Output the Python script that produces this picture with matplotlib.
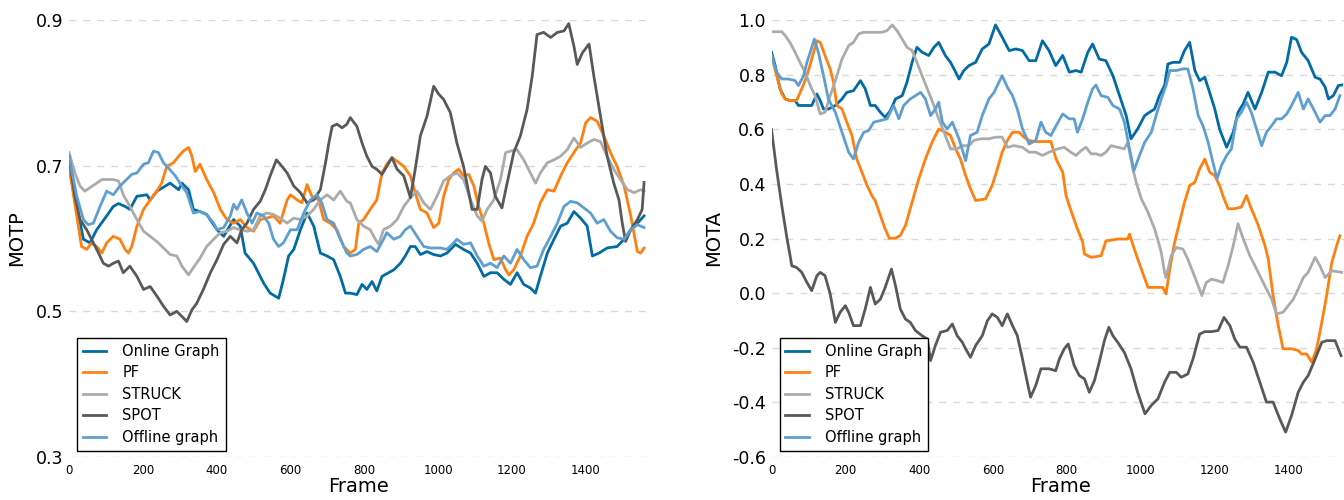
import matplotlib
matplotlib.use("Agg")
import matplotlib.pyplot as plt

# ---------------- data: MOTP (left panel) ----------------
motp_online_f = [0, 39, 57, 75, 102, 120, 134, 152, 165, 184, 211, 220, 238, 274, 297, 306, 324, 337, 355, 373,
                 401, 419, 446, 464, 477, 500, 527, 545, 568, 581, 595, 609, 627, 645, 663, 681, 699, 717, 735, 749,
                 762, 780, 794, 807, 821, 834, 848, 866, 880, 898, 911, 925, 938, 952, 970, 988, 1006, 1024, 1047,
                 1069, 1088, 1106, 1124, 1142, 1160, 1178, 1196, 1214, 1232, 1250, 1264, 1277, 1296, 1314, 1332,
                 1350, 1368, 1386, 1404, 1418, 1436, 1458, 1485, 1504, 1522, 1540, 1558]
motp_online_v = [0.700, 0.599, 0.594, 0.612, 0.631, 0.644, 0.648, 0.644, 0.640, 0.658, 0.660, 0.653, 0.665, 0.676,
                 0.667, 0.676, 0.667, 0.640, 0.637, 0.633, 0.612, 0.603, 0.626, 0.617, 0.580, 0.566, 0.539, 0.525,
                 0.518, 0.544, 0.576, 0.585, 0.612, 0.635, 0.617, 0.580, 0.576, 0.571, 0.548, 0.525,
                 0.525, 0.523, 0.537, 0.530, 0.541, 0.528, 0.548, 0.553, 0.557, 0.566, 0.576, 0.589, 0.589, 0.578,
                 0.582, 0.578, 0.576, 0.580, 0.592, 0.585, 0.580, 0.566, 0.548, 0.553, 0.553, 0.544, 0.537, 0.553,
                 0.537, 0.532, 0.525, 0.548, 0.580, 0.599, 0.617, 0.621, 0.637, 0.628, 0.617, 0.576, 0.580, 0.587,
                 0.589, 0.599, 0.612, 0.621, 0.631]

motp_pf_f = [0, 21, 34, 48, 61, 75, 89, 102, 120, 138, 152, 161, 170, 184, 202, 220, 238, 251, 265, 283, 297, 310,
             324, 333, 342, 355, 373, 392, 410, 428, 446, 464, 482, 500, 518, 536, 554, 572, 591, 600, 618, 631, 645,
             658, 676, 690, 708, 726, 744, 762, 776, 785, 798, 816, 834, 848, 861, 875, 889, 907, 925, 938, 952, 970,
             988, 1002, 1015, 1029, 1042, 1056, 1069, 1083, 1097, 1110, 1124, 1137, 1151, 1169, 1183, 1192, 1205,
             1223, 1241, 1259, 1277, 1296, 1314, 1332, 1350, 1368, 1386, 1400, 1413, 1431, 1449, 1467, 1485, 1504,
             1522, 1540, 1549, 1558]
motp_pf_v = [0.699, 0.631, 0.589, 0.585, 0.594, 0.589, 0.580, 0.594, 0.603, 0.599, 0.585, 0.580, 0.589, 0.617,
             0.640, 0.653, 0.665, 0.676, 0.699, 0.704, 0.713, 0.720, 0.725, 0.713, 0.692, 0.702, 0.681, 0.663, 0.640,
             0.626, 0.621, 0.626, 0.615, 0.610, 0.626, 0.628, 0.631, 0.621, 0.653, 0.660, 0.653, 0.649, 0.674, 0.658,
             0.653, 0.626, 0.621, 0.612, 0.589, 0.580, 0.585, 0.621, 0.626, 0.640, 0.653, 0.690, 0.702, 0.711, 0.706,
             0.699, 0.686, 0.663, 0.640, 0.635, 0.615, 0.621, 0.658, 0.681, 0.690, 0.695, 0.686, 0.688, 0.672, 0.644,
             0.621, 0.594, 0.571, 0.573, 0.557, 0.550, 0.557, 0.576, 0.603, 0.621, 0.649, 0.667, 0.665, 0.686, 0.704,
             0.718, 0.731, 0.759, 0.766, 0.761, 0.741, 0.718, 0.699, 0.672, 0.631, 0.582, 0.580, 0.587]

motp_struck_f = [0, 16, 30, 43, 57, 75, 89, 102, 120, 134, 147, 165, 184, 202, 220, 242, 256, 274, 292, 306, 324,
                 337, 355, 373, 392, 410, 428, 446, 464, 482, 500, 518, 536, 554, 572, 591, 609, 627, 645, 663, 681,
                 699, 717, 735, 753, 762, 780, 798, 816, 830, 839, 852, 871, 889, 907, 925, 943, 961, 979, 997, 1015,
                 1033, 1051, 1069, 1088, 1106, 1119, 1133, 1151, 1169, 1183, 1196, 1214, 1232, 1250, 1264, 1277, 1296,
                 1314, 1332, 1350, 1368, 1386, 1404, 1422, 1440, 1458, 1476, 1494, 1513, 1531, 1549, 1558]
motp_struck_v = [0.718, 0.690, 0.672, 0.665, 0.670, 0.676, 0.681, 0.681, 0.681, 0.679, 0.660, 0.644, 0.626, 0.610,
                 0.603, 0.594, 0.587, 0.578, 0.576, 0.562, 0.550, 0.560, 0.573, 0.589, 0.599, 0.608, 0.610, 0.615,
                 0.612, 0.610, 0.612, 0.631, 0.635, 0.633, 0.628, 0.621, 0.628, 0.626, 0.631, 0.640, 0.653, 0.660,
                 0.653, 0.665, 0.651, 0.649, 0.626, 0.617, 0.612, 0.599, 0.592, 0.612, 0.617, 0.626, 0.644, 0.656,
                 0.665, 0.649, 0.640, 0.658, 0.679, 0.686, 0.690, 0.681, 0.653, 0.631, 0.624, 0.640, 0.653, 0.681,
                 0.718, 0.720, 0.722, 0.708, 0.690, 0.676, 0.690, 0.704, 0.708, 0.713, 0.722, 0.738, 0.725, 0.731,
                 0.736, 0.733, 0.713, 0.695, 0.681, 0.667, 0.663, 0.667, 0.665]

motp_spot_f = [0, 16, 30, 48, 66, 80, 93, 107, 120, 134, 147, 165, 184, 202, 220, 238, 256, 274, 292, 306, 319, 333,
               346, 364, 383, 401, 419, 437, 455, 468, 482, 500, 518, 532, 545, 562, 577, 591, 609, 627, 645, 663, 681,
               695, 704, 713, 726, 740, 753, 762, 780, 794, 807, 821, 834, 848, 861, 875, 889, 907, 925, 938, 952, 970,
               988, 1002, 1015, 1033, 1051, 1069, 1083, 1092, 1106, 1119, 1128, 1142, 1155, 1173, 1187, 1205, 1223,
               1241, 1255, 1268, 1286, 1305, 1323, 1341, 1354, 1368, 1377, 1391, 1409, 1422, 1440, 1458, 1476, 1490,
               1499, 1508, 1522, 1540, 1553, 1558]
motp_spot_v = [0.713, 0.658, 0.626, 0.612, 0.594, 0.580, 0.566, 0.562, 0.566, 0.569, 0.553, 0.562, 0.548, 0.530,
               0.534, 0.521, 0.507, 0.495, 0.500, 0.493, 0.486, 0.502, 0.511, 0.530, 0.553, 0.571, 0.592, 0.603, 0.594,
               0.612, 0.621, 0.640, 0.651, 0.667, 0.686, 0.708, 0.699, 0.690, 0.672, 0.663, 0.649, 0.653, 0.667, 0.704,
               0.731, 0.754, 0.757, 0.752, 0.757, 0.766, 0.754, 0.731, 0.713, 0.699, 0.695, 0.688, 0.699, 0.711, 0.695,
               0.686, 0.656, 0.695, 0.741, 0.768, 0.809, 0.798, 0.791, 0.773, 0.731, 0.699, 0.663, 0.640, 0.640, 0.681,
               0.699, 0.690, 0.658, 0.642, 0.676, 0.718, 0.741, 0.777, 0.823, 0.880, 0.883, 0.876, 0.883, 0.885, 0.895,
               0.864, 0.839, 0.855, 0.867, 0.823, 0.768, 0.713, 0.676, 0.653, 0.621, 0.596, 0.612, 0.626, 0.640, 0.677]

motp_offline_f = [0, 21, 39, 52, 66, 84, 102, 120, 138, 156, 170, 184, 202, 215, 229, 242, 256, 269, 288, 306, 319,
                  337, 355, 373, 392, 401, 419, 437, 446, 455, 468, 482, 496, 509, 527, 541, 554, 568, 581, 600, 618,
                  636, 654, 672, 685, 699, 717, 735, 753, 762, 780, 798, 816, 834, 852, 861, 880, 898, 911, 925, 943,
                  961, 979, 1006, 1024, 1042, 1051, 1069, 1088, 1106, 1124, 1142, 1160, 1178, 1196, 1214, 1232, 1250,
                  1268, 1286, 1305, 1323, 1341, 1359, 1377, 1395, 1413, 1431, 1449, 1467, 1485, 1504, 1522, 1540, 1558]
motp_offline_v = [0.713, 0.658, 0.626, 0.619, 0.621, 0.644, 0.665, 0.660, 0.672, 0.681, 0.688, 0.690, 0.702, 0.704,
                  0.720, 0.718, 0.704, 0.697, 0.686, 0.672, 0.663, 0.635, 0.637, 0.633, 0.621, 0.612, 0.615, 0.631,
                  0.647, 0.640, 0.653, 0.635, 0.621, 0.635, 0.631, 0.621, 0.599, 0.589, 0.594, 0.612, 0.612, 0.635,
                  0.653, 0.660, 0.649, 0.626, 0.621, 0.599, 0.580, 0.576, 0.578, 0.585, 0.589, 0.582, 0.599, 0.608,
                  0.599, 0.603, 0.612, 0.617, 0.603, 0.589, 0.587, 0.587, 0.585, 0.594, 0.599, 0.592, 0.594, 0.576,
                  0.562, 0.566, 0.560, 0.576, 0.566, 0.585, 0.571, 0.560, 0.562, 0.585, 0.603, 0.621, 0.644, 0.651,
                  0.649, 0.642, 0.635, 0.621, 0.626, 0.610, 0.601, 0.599, 0.612, 0.619, 0.615]

# ---------------- data: MOTA (right panel) ----------------
mota_online_f = [0, 10, 23, 37, 50, 64, 73, 91, 109, 123, 132, 141, 154, 173, 191, 204, 222, 241, 254, 268, 281, 295,
                 308, 322, 336, 354, 367, 381, 394, 408, 426, 440, 453, 471, 485, 499, 508, 521, 535, 553, 571, 589,
                 607, 625, 644, 662, 680, 698, 716, 734, 752, 770, 789, 807, 825, 839, 857, 870, 888, 906, 925, 943,
                 961, 974, 992, 1011, 1024, 1038, 1051, 1065, 1074, 1088, 1106, 1119, 1133, 1147, 1160, 1174, 1187,
                 1201, 1214, 1233, 1251, 1264, 1278, 1291, 1310, 1328, 1346, 1364, 1382, 1396, 1409, 1423, 1436, 1454,
                 1473, 1486, 1500, 1509, 1522, 1536, 1545]
mota_online_v = [0.882, 0.833, 0.748, 0.711, 0.705, 0.705, 0.687, 0.687, 0.687, 0.729, 0.705, 0.674, 0.674, 0.687,
                 0.711, 0.735, 0.741, 0.778, 0.748, 0.687, 0.687, 0.662, 0.644, 0.668, 0.711, 0.723, 0.772, 0.845,
                 0.900, 0.882, 0.870, 0.900, 0.918, 0.870, 0.845, 0.809, 0.784, 0.815, 0.833, 0.845, 0.894, 0.912,
                 0.982, 0.937, 0.888, 0.894, 0.888, 0.851, 0.851, 0.924, 0.888, 0.833, 0.870, 0.809, 0.815, 0.809,
                 0.882, 0.912, 0.857, 0.851, 0.796, 0.723, 0.650, 0.565, 0.601, 0.650, 0.662, 0.674, 0.723, 0.760,
                 0.839, 0.845, 0.845, 0.888, 0.918, 0.815, 0.778, 0.790, 0.735, 0.674, 0.601, 0.534, 0.589, 0.662,
                 0.693, 0.735, 0.674, 0.735, 0.809, 0.809, 0.796, 0.845, 0.937, 0.928, 0.882, 0.851, 0.790, 0.784,
                 0.754, 0.711, 0.723, 0.760, 0.762]

mota_pf_f = [0, 14, 28, 37, 50, 68, 82, 96, 109, 123, 132, 145, 159, 168, 177, 191, 204, 218, 231, 245, 259, 272,
             281, 295, 308, 319, 336, 349, 363, 381, 399, 417, 435, 453, 471, 485, 499, 512, 526, 539, 553, 580, 598,
             612, 625, 639, 653, 671, 684, 698, 716, 743, 757, 771, 789, 798, 816, 829, 843, 848, 866, 893, 906, 938,
             965, 970, 983, 1002, 1020, 1038, 1060, 1069, 1079, 1092, 1119, 1133, 1147, 1160, 1174, 1187, 1201,
             1214, 1223, 1237, 1255, 1273, 1287, 1300, 1319, 1337, 1346, 1359, 1373, 1386, 1409, 1427, 1436, 1450,
             1464, 1477, 1491, 1504, 1518, 1531, 1540]
mota_pf_v = [0.870, 0.796, 0.729, 0.711, 0.705, 0.705, 0.748, 0.796, 0.857, 0.924, 0.918, 0.870, 0.821, 0.772,
             0.687, 0.674, 0.626, 0.577, 0.491, 0.443, 0.394, 0.357, 0.339, 0.284, 0.235, 0.201, 0.201, 0.211, 0.248,
             0.333, 0.418, 0.491, 0.552, 0.601, 0.589, 0.577, 0.528, 0.491, 0.430, 0.382, 0.339, 0.345, 0.394, 0.455,
             0.516, 0.559, 0.589, 0.589, 0.571, 0.559, 0.555, 0.555, 0.555, 0.491, 0.443, 0.357, 0.284, 0.235, 0.187,
             0.143, 0.131, 0.137, 0.191, 0.198, 0.198, 0.216, 0.161, 0.088, 0.021, 0.021, 0.021, -0.003, 0.088,
             0.185, 0.333, 0.394, 0.406, 0.455, 0.491, 0.443, 0.430, 0.394, 0.357, 0.309, 0.309, 0.315, 0.357,
             0.309, 0.248, 0.174, 0.124, -0.009, -0.119, -0.204, -0.204, -0.210, -0.223, -0.223, -0.253, -0.204,
             -0.107, -0.009, 0.112, 0.173, 0.210]

mota_struck_f = [0, 28, 37, 50, 64, 77, 91, 105, 118, 132, 145, 159, 173, 191, 209, 222, 236, 250, 272, 299, 313,
                 327, 340, 354, 367, 381, 394, 408, 426, 440, 453, 471, 485, 503, 517, 535, 548, 567, 589, 607, 625,
                 639, 657, 680, 698, 716, 734, 752, 775, 793, 811, 825, 839, 852, 866, 879, 893, 906, 920, 938, 956,
                 965, 979, 988, 1002, 1020, 1038, 1051, 1056, 1065, 1069, 1083, 1097, 1115, 1128, 1142, 1156, 1166,
                 1178, 1192, 1210, 1223, 1237, 1251, 1264, 1278, 1296, 1310, 1323, 1341, 1355, 1368, 1386, 1400,
                 1414, 1427, 1441, 1454, 1473, 1486, 1500, 1518, 1545]
mota_struck_v = [0.957, 0.957, 0.943, 0.918, 0.882, 0.845, 0.809, 0.760, 0.723, 0.656, 0.662, 0.723, 0.778, 0.857,
                 0.906, 0.918, 0.949, 0.955, 0.955, 0.955, 0.961, 0.982, 0.961, 0.930, 0.900, 0.888, 0.845, 0.796,
                 0.735, 0.687, 0.638, 0.577, 0.528, 0.528, 0.540, 0.540, 0.559, 0.565, 0.565, 0.571, 0.571, 0.534,
                 0.540, 0.534, 0.516, 0.516, 0.504, 0.516, 0.528, 0.534, 0.516, 0.504, 0.522, 0.534, 0.510, 0.510,
                 0.504, 0.516, 0.540, 0.534, 0.528, 0.552, 0.455, 0.406, 0.345, 0.296, 0.235, 0.174, 0.149, 0.076,
                 0.057, 0.137, 0.167, 0.161, 0.124, 0.076, 0.027, -0.009, 0.039, 0.051, 0.045, 0.039, 0.100, 0.173,
                 0.254, 0.199, 0.137, 0.100, 0.064, 0.015, -0.022, -0.076, -0.070, -0.046, -0.022, 0.015, 0.057,
                 0.076, 0.131, 0.100, 0.057, 0.082, 0.076]

mota_spot_f = [0, 14, 28, 42, 50, 55, 68, 82, 96, 109, 123, 132, 145, 159, 173, 186, 200, 209, 222, 241, 254, 268,
               281, 295, 308, 325, 336, 349, 363, 376, 390, 408, 422, 431, 444, 458, 476, 490, 503, 517, 526, 539, 553,
               571, 585, 598, 612, 625, 639, 653, 666, 680, 693, 702, 716, 730, 752, 770, 780, 793, 804, 820, 834,
               848, 861, 875, 888, 902, 914, 925, 938, 956, 974, 992, 1012, 1029, 1047, 1065, 1079, 1097, 1110, 1128,
               1142, 1160, 1174, 1192, 1210, 1226, 1242, 1255, 1269, 1287, 1305, 1323, 1341, 1359, 1377, 1393, 1409,
               1427, 1441, 1454, 1473, 1491, 1504, 1527, 1543]
mota_spot_v = [0.599, 0.450, 0.320, 0.200, 0.140, 0.100, 0.094, 0.076, 0.039, 0.009, 0.064, 0.076, 0.064, -0.003,
               -0.107, -0.070, -0.046, -0.070, -0.119, -0.119, -0.058, 0.021, -0.040, -0.022, 0.021, 0.088, 0.027,
               -0.058, -0.095, -0.107, -0.137, -0.156, -0.168, -0.247, -0.192, -0.143, -0.137, -0.113, -0.156, -0.180,
               -0.204, -0.235, -0.192, -0.156, -0.101, -0.076, -0.089, -0.119, -0.076, -0.119, -0.156, -0.241, -0.326,
               -0.381, -0.338, -0.277, -0.277, -0.284, -0.241, -0.204, -0.186, -0.265, -0.302, -0.314, -0.363, -0.320,
               -0.253, -0.174, -0.125, -0.156, -0.180, -0.217, -0.277, -0.363, -0.442, -0.411, -0.387, -0.326, -0.290,
               -0.290, -0.308, -0.296, -0.241, -0.150, -0.141, -0.141, -0.137, -0.089, -0.119, -0.168, -0.198, -0.198,
               -0.253, -0.326, -0.399, -0.399, -0.460, -0.509, -0.448, -0.363, -0.326, -0.302, -0.241, -0.180, -0.174,
               -0.174, -0.229]

mota_offline_f = [0, 14, 28, 46, 64, 73, 87, 96, 105, 116, 127, 141, 154, 173, 191, 209, 222, 236, 250, 263, 277, 295,
                  313, 331, 345, 358, 376, 390, 404, 417, 431, 444, 453, 463, 476, 490, 508, 526, 539, 557, 571, 589,
                  603, 616, 625, 639, 653, 666, 680, 698, 716, 730, 743, 757, 771, 789, 807, 820, 829, 843, 857, 870,
                  879, 893, 911, 925, 943, 956, 970, 982, 997, 1011, 1029, 1042, 1056, 1069, 1079, 1097, 1115, 1128,
                  1142, 1156, 1169, 1183, 1196, 1207, 1219, 1233, 1246, 1260, 1273, 1287, 1300, 1314, 1328, 1341, 1355,
                  1368, 1382, 1396, 1409, 1427, 1441, 1454, 1473, 1486, 1500, 1513, 1527, 1540]
mota_offline_v = [0.870, 0.809, 0.784, 0.784, 0.778, 0.760, 0.796, 0.845, 0.882, 0.930, 0.882, 0.796, 0.711, 0.662,
                  0.589, 0.516, 0.491, 0.552, 0.589, 0.595, 0.626, 0.632, 0.638, 0.687, 0.638, 0.687, 0.711, 0.723,
                  0.735, 0.711, 0.650, 0.674, 0.699, 0.626, 0.601, 0.626, 0.565, 0.485, 0.577, 0.589, 0.650, 0.711,
                  0.735, 0.772, 0.796, 0.754, 0.723, 0.674, 0.601, 0.546, 0.559, 0.626, 0.589, 0.577, 0.613, 0.656,
                  0.638, 0.638, 0.589, 0.638, 0.699, 0.748, 0.762, 0.723, 0.717, 0.687, 0.674, 0.626, 0.528, 0.449,
                  0.504, 0.552, 0.589, 0.650, 0.711, 0.760, 0.815, 0.815, 0.821, 0.821, 0.748, 0.650, 0.613, 0.552,
                  0.479, 0.418, 0.467, 0.504, 0.528, 0.638, 0.662, 0.699, 0.662, 0.601, 0.540, 0.589, 0.613, 0.638,
                  0.638, 0.656, 0.687, 0.735, 0.674, 0.711, 0.662, 0.626, 0.650, 0.650, 0.674, 0.723]

labels = ["Online Graph", "PF", "STRUCK", "SPOT", "Offline graph"]
colors = ["#006BA4", "#FF800E", "#ABABAB", "#595959", "#5F9ED1"]

motp_series = [(motp_online_f, motp_online_v), (motp_pf_f, motp_pf_v), (motp_struck_f, motp_struck_v),
               (motp_spot_f, motp_spot_v), (motp_offline_f, motp_offline_v)]
mota_series = [(mota_online_f, mota_online_v), (mota_pf_f, mota_pf_v), (mota_struck_f, mota_struck_v),
               (mota_spot_f, mota_spot_v), (mota_offline_f, mota_offline_v)]

motp_yticks = [0.3, 0.5, 0.7, 0.9]
mota_yticks = [-0.6, -0.4, -0.2, 0.0, 0.2, 0.4, 0.6, 0.8, 1.0]
xticks = [0, 200, 400, 600, 800, 1000, 1200, 1400]

plt.rcParams['font.family'] = ['DejaVu Sans']
fig = plt.figure(figsize=(13.44, 5.0), dpi=100)
W, H = 1344.0, 500.0
ax1 = fig.add_axes([69 / W, 43 / H, 578 / W, 437 / H])
ax2 = fig.add_axes([771.5 / W, 43 / H, 578 / W, 437 / H])


def style(ax, series, yticks, ylim, ylabel, ylab_x, fmt):
    for (f, v), lab, c in zip(series, labels, colors):
        ax.plot(f, v, color=c, lw=2.0, label=lab, solid_joinstyle='round')
    ax.set_xlim(0, 1566)
    ax.set_ylim(*ylim)
    ax.set_yticks(yticks)
    ax.set_yticklabels([fmt.format(t) for t in yticks], fontsize=12.5)
    ax.set_xticks(xticks)
    ax.set_xticklabels([str(t) for t in xticks], fontsize=8.5)
    ax.tick_params(axis='both', length=0)
    ax.tick_params(axis='y', pad=4)
    ax.tick_params(axis='x', pad=5)
    for s in ax.spines.values():
        s.set_visible(False)
    ax.yaxis.grid(True, color='#d9d9d9', linestyle=(0, (5, 5)), lw=1.0)
    ax.set_axisbelow(True)
    ax.set_xlabel("Frame", fontsize=14)
    ax.xaxis.set_label_coords(0.5, -0.045)
    ax.set_ylabel(ylabel, fontsize=14)
    ax.yaxis.set_label_coords(ylab_x, 0.5)
    leg = ax.legend(loc='lower left', bbox_to_anchor=(0.014, 0.014), borderaxespad=0,
                    fontsize=10.5, fancybox=False, framealpha=1, edgecolor='black',
                    handlelength=1.6, handletextpad=1.1, labelspacing=0.45)
    leg.get_frame().set_linewidth(1.0)


style(ax1, motp_series, motp_yticks, (0.3, 0.9), "MOTP", -0.074, "{:.1f}")
style(ax2, mota_series, mota_yticks, (-0.6, 1.0), "MOTA", -0.084, "{:.1f}")

fig.savefig("out.png", dpi=100)
